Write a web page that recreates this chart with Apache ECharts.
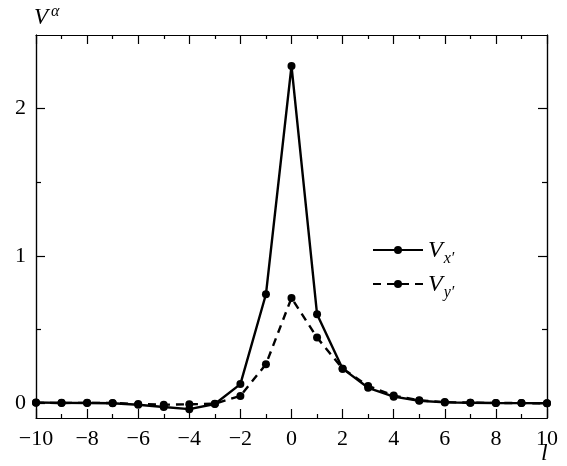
<!DOCTYPE html>
<html>
<head>
<meta charset="utf-8">
<script src="https://cdn.jsdelivr.net/npm/echarts@6/dist/echarts.min.js"></script>
<style>
html,body{margin:0;padding:0;background:#fff;}
#chart{width:567px;height:466px;}
</style>
</head>
<body>
<div id="chart"></div>
<script>
// l 值（横轴）
var lValues = [-10,-9,-8,-7,-6,-5,-4,-3,-2,-1,0,1,2,3,4,5,6,7,8,9,10];
// V_x' 和 V_y'
var vxValues = [0.005,0.003,0.002,0.0,-0.01,-0.025,-0.04,-0.005,0.13,0.74,2.29,0.605,0.235,0.105,0.045,0.017,0.006,0.004,0.002,0.001,0.0];
var vyValues = [0.003,0.002,0.003,0.002,-0.005,-0.01,-0.007,-0.003,0.05,0.265,0.715,0.446,0.235,0.118,0.052,0.02,0.008,0.004,0.002,0.001,0.0];
var yMajorTicks = [0,1,2];
var yMinorTicks = [0.5,1.5];

var serif = 'Liberation Serif';

function pairs(ys){
    var out = [];
    for (var i = 0; i < lValues.length; i++) {
        out.push([lValues[i], ys[i]]);
    }
    return out;
}
function fmt(v){
    return v < 0 ? '\u2212' + Math.abs(v) : String(v);
}

var myChart = echarts.init(document.getElementById('chart'));

var axisLine = {show:true, onZero:false, lineStyle:{color:'#000', width:1.2}};
function xAx(pos, labels){
    return {
        type:'value', position:pos, min:-10, max:10, interval:2,
        axisLine:axisLine,
        axisTick:{show:true, inside:true, length:9, lineStyle:{color:'#000', width:1.2}},
        minorTick:{show:true, splitNumber:2, length:4, lineStyle:{color:'#000', width:1.2}},
        splitLine:{show:false},
        axisLabel:{show:labels, formatter:fmt, margin:10, color:'#000', fontFamily:serif, fontSize:22}
    };
}
function yAx(pos, ticks, len, labels){
    return {
        type:'value', position:pos, min:-0.1, max:2.5,
        axisLine:axisLine,
        axisTick:{show:true, inside:true, length:len, customValues:ticks, lineStyle:{color:'#000', width:1.2}},
        splitLine:{show:false},
        axisLabel:{show:labels, customValues:yMajorTicks, formatter:fmt, margin:10, color:'#000', fontFamily:serif, fontSize:22}
    };
}

var option = {
    animation:false,
    backgroundColor:'#fff',
    grid:{left:36, right:20, top:35, bottom:48, containLabel:false},
    xAxis:[xAx('bottom', true), xAx('top', false)],
    yAxis:[
        yAx('left', yMajorTicks, 9, true),
        yAx('left', yMinorTicks, 5, false),
        yAx('right', yMajorTicks, 9, false),
        yAx('right', yMinorTicks, 5, false)
    ],
    legend:{
        orient:'vertical', left:372, top:239, itemGap:6, padding:0,
        itemWidth:50, itemHeight:10,
        data:['Vx','Vy'],
        formatter:function(name){
            return name === 'Vx' ? '{v|V}{s|x\u2032}' : '{v|V}{s|y\u2032}';
        },
        textStyle:{
            color:'#000',
            rich:{
                v:{fontFamily:serif, fontStyle:'italic', fontSize:24, color:'#000', verticalAlign:'bottom', lineHeight:26},
                s:{fontFamily:serif, fontStyle:'italic', fontSize:16, color:'#000', verticalAlign:'bottom', lineHeight:26, padding:[0,0,-4,1]}
            }
        }
    },
    graphic:[
        {type:'text', left:34, top:6, style:{text:'V', font:'italic 23px ' + serif, fill:'#000'}},
        {type:'text', left:51, top:4, style:{text:'\u03b1', font:'italic 16px ' + serif, fill:'#000'}},
        {type:'text', left:541, top:442, style:{text:'l', font:'italic 24px ' + serif, fill:'#000'}}
    ],
    series:[
        {
            name:'Vx', type:'line', data:pairs(vxValues),
            symbol:'circle', symbolSize:8,
            lineStyle:{color:'#000', width:2.4},
            itemStyle:{color:'#000'}
        },
        {
            name:'Vy', type:'line', data:pairs(vyValues),
            symbol:'circle', symbolSize:8,
            lineStyle:{color:'#000', width:2.4, type:[8,6]},
            itemStyle:{color:'#000'}
        }
    ]
};
myChart.setOption(option);
</script>
</body>
</html>
